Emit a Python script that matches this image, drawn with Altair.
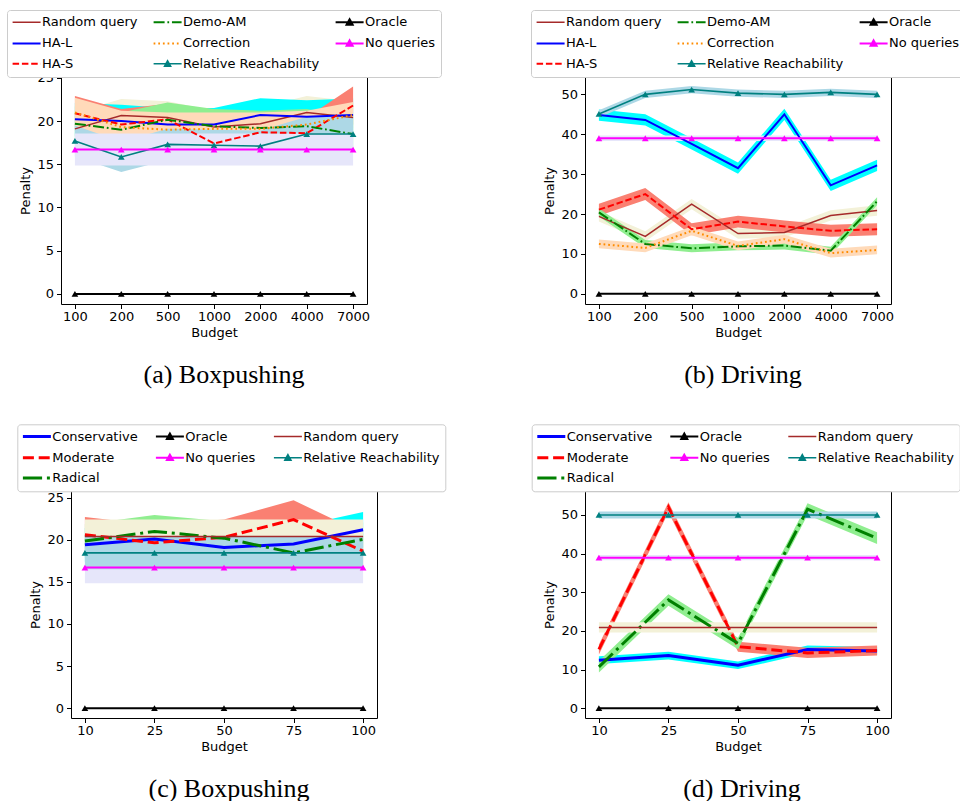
import altair as alt
import pandas as pd

# ---------------- data ----------------
BUDGETS_AB = ["100", "200", "500", "1000", "2000", "4000", "7000"]
BUDGETS_CD = ["10", "25", "50", "75", "100"]

# (a) Boxpushing
A_RANDOM = [19.1, 20.65, 20.4, 19.3, 19.7, 21.0, 20.4]
A_RANDOM_ERR = [1.9, 1.9, 1.9, 1.9, 1.9, 1.9, 1.9]
A_HAL = [20.2, 20.0, 19.6, 19.6, 20.7, 20.5, 20.7]
A_HAL_ERR = [1.9, 1.9, 1.9, 1.9, 1.95, 1.9, 1.9]
A_HAS = [20.9, 19.6, 20.2, 17.4, 18.7, 18.6, 21.8]
A_HAS_ERR = [2.0, 1.8, 1.8, 1.8, 1.8, 1.8, 2.2]
A_DEMO = [19.7, 19.0, 20.15, 19.4, 19.2, 19.4, 18.5]
A_DEMO_ERR = [2.0, 2.0, 2.0, 2.0, 2.0, 2.0, 2.0]
A_CORR = [21.0, 19.3, 19.0, 19.1, 19.1, 19.6, 20.7]
A_CORR_ERR = [1.7, 1.9, 2.0, 1.9, 1.9, 1.6, 1.5]
A_RR = [17.7, 15.85, 17.3, 17.2, 17.1, 18.5, 18.5]
A_RR_ERR = [1.8, 1.75, 1.8, 1.8, 1.8, 2.0, 2.0]
A_ORACLE = [0, 0, 0, 0, 0, 0, 0]
A_NOQ = [16.7, 16.7, 16.7, 16.7, 16.7, 16.7, 16.7]
A_NOQ_ERR = [1.85, 1.85, 1.85, 1.85, 1.85, 1.85, 1.85]

# (b) Driving
B_RANDOM = [19.4, 14.4, 22.5, 15.1, 15.4, 19.65, 20.9]
B_RANDOM_ERR = [1.3, 1.3, 1.3, 1.3, 1.3, 1.3, 1.3]
B_HAL = [44.8, 43.6, 37.6, 31.5, 45.0, 27.2, 32.2]
B_HAL_ERR = [1.4, 1.4, 1.4, 1.4, 1.4, 1.4, 1.4]
B_HAS = [21.1, 25.0, 16.2, 18.1, 16.9, 15.8, 16.2]
B_HAS_ERR = [1.5, 1.5, 1.5, 1.5, 1.5, 1.5, 1.5]
B_DEMO = [20.4, 12.5, 11.4, 11.9, 12.1, 10.8, 23.2]
B_DEMO_ERR = [1.0, 1.0, 1.0, 1.0, 1.0, 1.0, 1.0]
B_CORR = [12.5, 11.5, 15.8, 12.0, 13.7, 10.2, 11.0]
B_CORR_ERR = [1.1, 1.1, 1.1, 1.1, 1.1, 1.1, 1.1]
B_RR = [45.1, 50.0, 51.2, 50.3, 50.0, 50.5, 50.0]
B_RR_ERR = [0.9, 0.9, 0.9, 0.9, 0.9, 0.9, 0.9]
B_ORACLE = [0, 0, 0, 0, 0, 0, 0]
B_NOQ = [39.0, 39.0, 39.0, 39.0, 39.0, 39.0, 39.0]
B_NOQ_ERR = [0.7, 0.7, 0.7, 0.7, 0.7, 0.7, 0.7]

# (c) Boxpushing
C_CONS = [19.4, 20.1, 19.1, 19.5, 21.2]
C_CONS_ERR = [2.0, 2.0, 2.0, 2.0, 2.1]
C_MOD = [20.6, 19.65, 20.3, 22.4, 18.65]
C_MOD_ERR = [2.1, 2.1, 2.1, 2.3, 2.1]
C_RAD = [19.85, 21.0, 20.2, 18.45, 20.05]
C_RAD_ERR = [2.0, 1.95, 2.0, 2.0, 2.0]
C_ORACLE = [0, 0, 0, 0, 0]
C_NOQ = [16.7, 16.7, 16.7, 16.7, 16.7]
C_NOQ_ERR = [1.85, 1.85, 1.85, 1.85, 1.85]
C_RANDOM = [20.4, 20.4, 20.4, 20.4, 20.4]
C_RANDOM_ERR = [2.0, 2.0, 2.0, 2.0, 2.0]
C_RR = [18.45, 18.45, 18.45, 18.45, 18.45]
C_RR_ERR = [1.95, 1.95, 1.95, 1.95, 1.95]

# (d) Driving
D_CONS = [12.4, 13.6, 11.1, 15.2, 14.8]
D_CONS_ERR = [1.0, 1.0, 1.0, 1.0, 1.0]
D_MOD = [15.2, 52.0, 15.9, 14.3, 14.9]
D_MOD_ERR = [1.3, 1.3, 1.3, 1.3, 1.3]
D_RAD = [10.7, 28.0, 16.75, 51.5, 44.0]
D_RAD_ERR = [1.5, 1.5, 1.5, 1.5, 1.5]
D_ORACLE = [0, 0, 0, 0, 0]
D_NOQ = [38.95, 38.95, 38.95, 38.95, 38.95]
D_NOQ_ERR = [0.7, 0.7, 0.7, 0.7, 0.7]
D_RANDOM = [20.9, 20.9, 20.9, 20.9, 20.9]
D_RANDOM_ERR = [1.3, 1.3, 1.3, 1.3, 1.3]
D_RR = [50.0, 50.0, 50.0, 50.0, 50.0]
D_RR_ERR = [0.9, 0.9, 0.9, 0.9, 0.9]

# ---------------- styles ----------------
LINE_COLOR = {
    "Random query": "#a52a2a", "HA-L": "#0000ff", "HA-S": "#ff0000",
    "Demo-AM": "#008000", "Correction": "#ff8c00", "Relative Reachability": "#008080",
    "Oracle": "#000000", "No queries": "#ff00ff",
    "Conservative": "#0000ff", "Moderate": "#ff0000", "Radical": "#008000",
}
BAND_COLOR = {
    "Random query": "#f3f1d8", "HA-L": "#00ffff", "HA-S": "#fa8072",
    "Demo-AM": "#90ee90", "Correction": "#ffdab9", "Relative Reachability": "#add8e6",
    "No queries": "#e6e6fa",
    "Conservative": "#00ffff", "Moderate": "#fa8072", "Radical": "#90ee90",
}
DASH_TOP = {"HA-S": [6.5, 2.8], "Demo-AM": [11, 2.8, 1.75, 2.8], "Correction": [1.75, 2.9]}
DASH_BOTTOM = {"Moderate": [11, 4.8], "Radical": [19.2, 4.8, 3, 4.8]}
WIDTH_TOP = {"Random query": 1.5, "HA-L": 2, "HA-S": 2, "Demo-AM": 2, "Correction": 2,
             "Relative Reachability": 1.6, "Oracle": 2, "No queries": 2}
WIDTH_BOTTOM = {"Conservative": 3, "Moderate": 3, "Radical": 3, "Oracle": 2,
                "No queries": 2, "Random query": 1.5, "Relative Reachability": 1.6}
MARKER_SERIES = ["Oracle", "No queries", "Relative Reachability"]

FONT = "DejaVu Sans"


def ternary(mapping, default):
    expr = default
    for k, v in mapping.items():
        expr = f"datum.value === '{k}' ? {v} : ({expr})"
    return expr


LINE_PATH = "M-1.6,0L5.4,0"
MARK_PATH = ("M-1.6,0L5.4,0M1.15,0.6L1.9,-0.75L2.65,0.6Z"
             "M1.5,0.35L1.9,-0.35L2.3,0.35Z")
SHAPE_EXPR = ("indexof([" + ",".join(f"'{s}'" for s in MARKER_SERIES) + "], datum.value) >= 0 ? '"
              + MARK_PATH + "' : '" + LINE_PATH + "'")


def build_df(budgets, series):
    rows = []
    for name, mean, err in series:
        for i, b in enumerate(budgets):
            e = err[i] if err is not None else 0
            rows.append({"budget": b, "series": name, "mean": mean[i],
                         "lo": mean[i] - e, "hi": mean[i] + e})
    return pd.DataFrame(rows)


def panel(budgets, series, legend_order, dash, width, ydomain, yticks, xpad,
          legend_xy, colpad, caption, cap_dx, shift=0):
    df = build_df(budgets, series)
    W = 306
    if shift:
        xsc = alt.Scale(type="point", padding=xpad, domain=budgets, range=[shift, W + shift])
        xax = alt.Axis(title="Budget", labelAngle=0, domain=True, domainColor="black")
        yax = alt.Axis(title="Penalty", values=yticks, domain=True, domainColor="black",
                       offset=-shift)
    else:
        xsc = alt.Scale(type="point", padding=xpad, domain=budgets)
        xax = alt.Axis(title="Budget", labelAngle=0)
        yax = alt.Axis(title="Penalty", values=yticks)
    xenc = alt.X("budget:O", sort=budgets, scale=xsc, axis=xax)
    ysc = alt.Scale(domain=ydomain, nice=False, zero=False)

    color_scale = alt.Scale(domain=legend_order, range=[LINE_COLOR[s] for s in legend_order])
    dash_expr = ternary({k: str(v) for k, v in dash.items()}, "[1,0]")
    width_expr = ternary({k: str(v) for k, v in width.items()}, "2")
    legend = alt.Legend(
        title=None, orient="none", legendX=legend_xy[0] + shift, legendY=legend_xy[1],
        columns=3, direction="horizontal",
        labelFont=FONT, labelFontSize=13, labelColor="black",
        padding=5.5, rowPadding=6.4, columnPadding=colpad,
        fillColor="white", strokeColor="#cccccc", cornerRadius=3,
        symbolSize=64, symbolType=alt.ExprRef(expr=SHAPE_EXPR),
        symbolDash=alt.ExprRef(expr=dash_expr),
        symbolStrokeWidth=alt.ExprRef(expr=width_expr),
        labelOffset=16.5,
    )

    layers = []
    for name, mean, err in series:
        if err is None:
            continue
        sub = df[df.series == name]
        layers.append(
            alt.Chart(sub).mark_area(color=BAND_COLOR[name], opacity=1, interpolate="linear")
            .encode(x=xenc, y=alt.Y("lo:Q", scale=ysc, axis=yax), y2=alt.Y2("hi:Q"))
        )
    for name, mean, err in series:
        sub = df[df.series == name]
        props = {"strokeWidth": width[name]}
        if name in dash:
            props["strokeDash"] = dash[name]
        layers.append(
            alt.Chart(sub).mark_line(**props)
            .encode(x=xenc, y=alt.Y("mean:Q", scale=ysc, axis=yax),
                    color=alt.Color("series:N", scale=color_scale, legend=legend))
        )
        if name in MARKER_SERIES:
            layers.append(
                alt.Chart(sub).mark_point(shape="triangle-up", filled=True, size=45,
                                          opacity=1, color=LINE_COLOR[name])
                .encode(x=xenc, y=alt.Y("mean:Q", scale=ysc, axis=yax))
            )
    main = alt.layer(*layers)
    title = alt.TitleParams(caption, orient="bottom", frame="group", anchor="middle",
                            font="Liberation Serif", fontSize=26, fontWeight="normal",
                            color="black", baseline="alphabetic", offset=43, dx=cap_dx)
    if shift:
        # right-hand spine drawn as a label-less axis
        right = alt.Chart(df[df.series == "Oracle"]).mark_line(opacity=0).encode(
            x=xenc,
            y=alt.Y("mean:Q", scale=ysc,
                    axis=alt.Axis(orient="right", labels=False, ticks=False, domain=True,
                                  domainColor="black", title=None)),
        )
        return alt.layer(main, right).resolve_scale(y="independent").properties(
            width=W + shift, height=227, title=title,
            view=alt.ViewBackground(stroke="transparent"))
    return main.properties(width=W, height=227, title=title)


# legend entries in row-major reading order (3 columns, as in the original legends)
TOP_ORDER = ["Random query", "Demo-AM", "Oracle", "HA-L", "Correction", "No queries",
             "HA-S", "Relative Reachability"]
BOTTOM_ORDER = ["Conservative", "Oracle", "Random query", "Moderate", "No queries",
                "Relative Reachability", "Radical"]

pa = panel(BUDGETS_AB, [
    ("Random query", A_RANDOM, A_RANDOM_ERR), ("HA-L", A_HAL, A_HAL_ERR),
    ("HA-S", A_HAS, A_HAS_ERR), ("Demo-AM", A_DEMO, A_DEMO_ERR),
    ("Correction", A_CORR, A_CORR_ERR), ("Relative Reachability", A_RR, A_RR_ERR),
    ("Oracle", A_ORACLE, None), ("No queries", A_NOQ, A_NOQ_ERR)],
    TOP_ORDER, DASH_TOP, WIDTH_TOP, [-1.17, 25.1], [0, 5, 10, 15, 20, 25], 0.3,
    (-54, -67), 12, "(a) Boxpushing", 10)

pb = panel(BUDGETS_AB, [
    ("Random query", B_RANDOM, B_RANDOM_ERR), ("HA-L", B_HAL, B_HAL_ERR),
    ("HA-S", B_HAS, B_HAS_ERR), ("Demo-AM", B_DEMO, B_DEMO_ERR),
    ("Correction", B_CORR, B_CORR_ERR), ("Relative Reachability", B_RR, B_RR_ERR),
    ("Oracle", B_ORACLE, None), ("No queries", B_NOQ, B_NOQ_ERR)],
    TOP_ORDER, DASH_TOP, WIDTH_TOP, [-2.55, 54.35], [0, 10, 20, 30, 40, 50], 0.3,
    (-54, -67), 12, "(b) Driving", 5)

pc = panel(BUDGETS_CD, [
    ("Conservative", C_CONS, C_CONS_ERR), ("Moderate", C_MOD, C_MOD_ERR),
    ("Radical", C_RAD, C_RAD_ERR), ("Oracle", C_ORACLE, None),
    ("No queries", C_NOQ, C_NOQ_ERR), ("Random query", C_RANDOM, C_RANDOM_ERR),
    ("Relative Reachability", C_RR, C_RR_ERR)],
    BOTTOM_ORDER, DASH_BOTTOM, WIDTH_BOTTOM, [-1.17, 25.8], [0, 5, 10, 15, 20, 25], 0.2,
    (-53.7, -66.7), 14, "(c) Boxpushing", 10, shift=10)

pd_ = panel(BUDGETS_CD, [
    ("Conservative", D_CONS, D_CONS_ERR), ("Moderate", D_MOD, D_MOD_ERR),
    ("Radical", D_RAD, D_RAD_ERR), ("Oracle", D_ORACLE, None),
    ("No queries", D_NOQ, D_NOQ_ERR), ("Random query", D_RANDOM, D_RANDOM_ERR),
    ("Relative Reachability", D_RR, D_RR_ERR)],
    BOTTOM_ORDER, DASH_BOTTOM, WIDTH_BOTTOM, [-2.55, 56.2], [0, 10, 20, 30, 40, 50], 0.2,
    (-53.3, -66.7), 14, "(d) Driving", 4)

chart = alt.concat(pa, pb, pc, pd_, columns=2, spacing={"row": 187, "column": 208},
                   bounds="flush").resolve_scale(color="independent").properties(
    autosize=alt.AutoSizeParams(type="none"),
    padding={"left": 61, "top": 77, "right": 899, "bottom": 724},
    background="white",
).configure(font=FONT).configure_view(
    stroke="black", strokeWidth=1
).configure_axis(
    grid=False, domain=False, tickColor="black", tickSize=4.5, tickWidth=1,
    labelFont=FONT, labelFontSize=13, labelColor="black",
    titleFont=FONT, titleFontSize=13, titleFontWeight="normal", titleColor="black",
).configure_axisX(labelPadding=2, titlePadding=3).configure_axisY(labelPadding=3, titlePadding=4)

chart.save("out.html", embed_options={"renderer": "svg", "actions": False})
